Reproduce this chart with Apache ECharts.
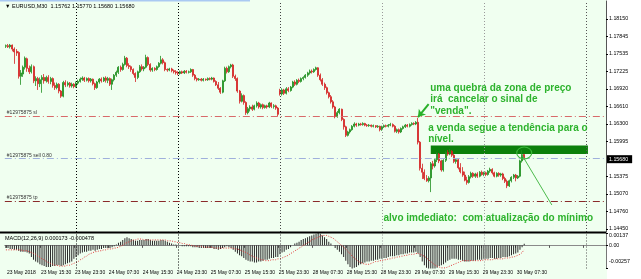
<!DOCTYPE html>
<html><head><meta charset="utf-8">
<script src="https://cdn.jsdelivr.net/npm/echarts@6/dist/echarts.min.js"></script>
<style>html,body{margin:0;padding:0;background:#f0fff0}#c{width:641px;height:279px}</style>
</head><body><div id="c"></div>
<script>
// ---- DATA (EURUSD M30) ----
const openP = [
1.1767,1.1768,1.1766,1.1769,1.1762,1.1758,1.1756,1.1714,1.1718,1.1730,
1.1745,1.1728,1.1722,1.1731,1.1706,1.1710,1.1701,1.1708,1.1712,1.1706,
1.1712,1.1705,1.1710,1.1698,1.1694,1.1700,1.1688,1.1679,1.1703,1.1699,
1.1702,1.1697,1.1700,1.1696,1.1702,1.1705,1.1709,1.1711,1.1707,1.1710,
1.1706,1.1709,1.1701,1.1694,1.1704,1.1709,1.1706,1.1711,1.1707,1.1710,
1.1700,1.1708,1.1716,1.1721,1.1730,1.1726,1.1735,1.1746,1.1733,1.1731,
1.1726,1.1719,1.1712,1.1722,1.1731,1.1727,1.1730,1.1747,1.1735,1.1725,
1.1728,1.1726,1.1731,1.1737,1.1743,1.1738,1.1726,1.1725,1.1727,1.1724,
1.1722,1.1720,1.1719,1.1722,1.1720,1.1723,1.1721,1.1722,1.1726,1.1716,
1.1710,1.1708,1.1709,1.1707,1.1709,1.1708,1.1710,1.1709,1.1711,1.1705,
1.1699,1.1693,1.1686,1.1706,1.1728,1.1722,1.1731,1.1734,1.1714,1.1710,
1.1688,1.1670,1.1680,1.1668,1.1650,1.1657,1.1660,1.1656,1.1662,1.1667,
1.1660,1.1664,1.1659,1.1662,1.1660,1.1667,1.1661,1.1662,1.1658,1.1688,
1.1683,1.1690,1.1684,1.1692,1.1689,1.1695,1.1704,1.1700,1.1707,1.1705,
1.1710,1.1712,1.1716,1.1720,1.1723,1.1722,1.1726,1.1729,1.1716,1.1708,
1.1700,1.1694,1.1685,1.1678,1.1669,1.1660,1.1643,1.1650,1.1656,1.1638,
1.1625,1.1610,1.1616,1.1620,1.1626,1.1630,1.1628,1.1630,1.1629,1.1631,
1.1628,1.1627,1.1628,1.1626,1.1627,1.1625,1.1626,1.1620,1.1625,1.1627,
1.1626,1.1628,1.1629,1.1626,1.1617,1.1620,1.1616,1.1622,1.1625,1.1628,
1.1626,1.1629,1.1631,1.1630,1.1633,1.1598,1.1552,1.1545,1.1534,1.1530,
1.1535,1.1560,1.1556,1.1567,1.1577,1.1565,1.1549,1.1566,1.1580,1.1577,
1.1582,1.1575,1.1564,1.1567,1.1553,1.1546,1.1540,1.1531,1.1527,1.1537,
1.1543,1.1538,1.1542,1.1538,1.1545,1.1541,1.1544,1.1541,1.1547,1.1550,
1.1544,1.1538,1.1543,1.1540,1.1542,1.1534,1.1529,1.1521,1.1530,1.1536,
1.1540,1.1535,1.1538,1.1565,1.15762];
const closeP = [
1.1768,1.1766,1.1769,1.1762,1.1757,1.1755,1.1714,1.1720,1.1730,1.1746,
1.1728,1.1722,1.1731,1.1706,1.1710,1.1701,1.1708,1.1712,1.1706,1.1712,
1.1705,1.1710,1.1698,1.1694,1.1700,1.1688,1.1679,1.1703,1.1699,1.1702,
1.1697,1.1700,1.1696,1.1702,1.1705,1.1709,1.1711,1.1707,1.1710,1.1706,
1.1709,1.1701,1.1694,1.1704,1.1709,1.1706,1.1711,1.1707,1.1710,1.1700,
1.1708,1.1716,1.1721,1.1730,1.1726,1.1735,1.1746,1.1733,1.1731,1.1726,
1.1719,1.1712,1.1722,1.1731,1.1727,1.1730,1.1747,1.1735,1.1725,1.1728,
1.1726,1.1731,1.1737,1.1743,1.1738,1.1726,1.1725,1.1727,1.1724,1.1722,
1.1720,1.1719,1.1722,1.1720,1.1723,1.1721,1.1722,1.1726,1.1716,1.1710,
1.1708,1.1709,1.1707,1.1709,1.1708,1.1710,1.1709,1.1711,1.1705,1.1699,
1.1693,1.1686,1.1706,1.1728,1.1722,1.1731,1.1734,1.1714,1.1710,1.1688,
1.1670,1.1680,1.1668,1.1650,1.1657,1.1660,1.1656,1.1662,1.1667,1.1660,
1.1664,1.1659,1.1662,1.1660,1.1667,1.1661,1.1662,1.1658,1.1647,1.1683,
1.1690,1.1684,1.1692,1.1689,1.1695,1.1704,1.1700,1.1707,1.1705,1.1710,
1.1712,1.1716,1.1720,1.1723,1.1722,1.1726,1.1729,1.1716,1.1708,1.1700,
1.1694,1.1685,1.1678,1.1669,1.1660,1.1643,1.1650,1.1656,1.1638,1.1625,
1.1610,1.1616,1.1620,1.1626,1.1630,1.1628,1.1630,1.1629,1.1631,1.1628,
1.1627,1.1628,1.1626,1.1627,1.1625,1.1626,1.1620,1.1625,1.1627,1.1626,
1.1628,1.1629,1.1626,1.1617,1.1620,1.1616,1.1622,1.1625,1.1628,1.1626,
1.1629,1.1631,1.1630,1.1633,1.1598,1.1552,1.1545,1.1534,1.1530,1.1535,
1.1560,1.1556,1.1567,1.1577,1.1565,1.1549,1.1566,1.1580,1.1577,1.1582,
1.1575,1.1564,1.1567,1.1553,1.1546,1.1540,1.1531,1.1527,1.1537,1.1543,
1.1538,1.1542,1.1538,1.1545,1.1541,1.1544,1.1541,1.1547,1.1550,1.1544,
1.1538,1.1543,1.1540,1.1542,1.1534,1.1529,1.1521,1.1530,1.1536,1.1540,
1.1535,1.1538,1.1565,1.1576,1.15680];
const highP = [
1.1770,1.1771,1.1771,1.1770,1.1765,1.1762,1.1758,1.1725,1.1733,1.1749,
1.1747,1.1733,1.1735,1.1733,1.1714,1.1713,1.1712,1.1716,1.1718,1.1715,
1.1716,1.1713,1.1712,1.1703,1.1703,1.1702,1.1690,1.1706,1.1707,1.1705,
1.1704,1.1703,1.1702,1.1705,1.1708,1.1712,1.1714,1.1713,1.1712,1.1712,
1.1711,1.1710,1.1703,1.1706,1.1711,1.1712,1.1713,1.1714,1.1713,1.1712,
1.1710,1.1718,1.1724,1.1732,1.1733,1.1738,1.1750,1.1748,1.1737,1.1733,
1.1728,1.1721,1.1724,1.1734,1.1735,1.1732,1.1752,1.1749,1.1737,1.1730,
1.1730,1.1733,1.1739,1.1750,1.1746,1.1740,1.1728,1.1729,1.1729,1.1726,
1.1725,1.1723,1.1724,1.1724,1.1725,1.1725,1.1724,1.1728,1.1727,1.1718,
1.1712,1.1711,1.1711,1.1711,1.1710,1.1712,1.1712,1.1713,1.1712,1.1707,
1.1704,1.1695,1.1708,1.1731,1.1731,1.1733,1.1736,1.1736,1.1717,1.1712,
1.1690,1.1684,1.1682,1.1670,1.1660,1.1663,1.1664,1.1664,1.1670,1.1669,
1.1666,1.1666,1.1664,1.1664,1.1669,1.1668,1.1665,1.1664,1.1660,1.1692,
1.1693,1.1692,1.1695,1.1695,1.1697,1.1706,1.1707,1.1709,1.1710,1.1712,
1.1714,1.1718,1.1722,1.1726,1.1726,1.1728,1.1731,1.1730,1.1719,1.1711,
1.1703,1.1696,1.1687,1.1681,1.1672,1.1662,1.1653,1.1658,1.1657,1.1640,
1.1627,1.1618,1.1622,1.1628,1.1633,1.1632,1.1632,1.1632,1.1633,1.1632,
1.1630,1.1630,1.1629,1.1629,1.1628,1.1628,1.1627,1.1627,1.1629,1.1629,
1.1630,1.1632,1.1631,1.1628,1.1622,1.1622,1.1624,1.1627,1.1630,1.1630,
1.1631,1.1633,1.1633,1.1635,1.1641,1.1600,1.1560,1.1550,1.1540,1.1538,
1.1563,1.1565,1.1569,1.1580,1.1579,1.1567,1.1568,1.1582,1.1584,1.1586,
1.1584,1.1577,1.1570,1.1569,1.1561,1.1554,1.1546,1.1537,1.1540,1.1546,
1.1545,1.1544,1.1545,1.1547,1.1548,1.1546,1.1546,1.1549,1.1553,1.1552,
1.1546,1.1545,1.1545,1.1544,1.1544,1.1537,1.1532,1.1532,1.1538,1.1542,
1.1542,1.1540,1.1567,1.1584,1.15770];
const lowP = [
1.1764,1.1764,1.1763,1.1758,1.1736,1.1750,1.1710,1.1699,1.1713,1.1726,
1.1722,1.1718,1.1719,1.1702,1.1697,1.1690,1.1695,1.1685,1.1701,1.1703,
1.1701,1.1700,1.1694,1.1690,1.1691,1.1684,1.1676,1.1677,1.1695,1.1696,
1.1694,1.1694,1.1693,1.1694,1.1699,1.1703,1.1706,1.1704,1.1705,1.1703,
1.1703,1.1698,1.1690,1.1692,1.1701,1.1703,1.1704,1.1703,1.1702,1.1697,
1.1690,1.1705,1.1713,1.1718,1.1722,1.1724,1.1733,1.1730,1.1727,1.1722,
1.1716,1.1704,1.1709,1.1720,1.1724,1.1723,1.1728,1.1732,1.1722,1.1722,
1.1723,1.1724,1.1729,1.1735,1.1735,1.1723,1.1722,1.1723,1.1721,1.1719,
1.1717,1.1716,1.1717,1.1718,1.1718,1.1719,1.1719,1.1720,1.1713,1.1707,
1.1705,1.1706,1.1705,1.1705,1.1706,1.1706,1.1707,1.1707,1.1703,1.1697,
1.1690,1.1683,1.1684,1.1704,1.1719,1.1720,1.1728,1.1711,1.1706,1.1685,
1.1666,1.1668,1.1664,1.1646,1.1647,1.1652,1.1653,1.1654,1.1659,1.1657,
1.1657,1.1656,1.1657,1.1657,1.1658,1.1658,1.1657,1.1655,1.1644,1.1680,
1.1680,1.1681,1.1682,1.1686,1.1687,1.1693,1.1697,1.1698,1.1702,1.1703,
1.1707,1.1710,1.1713,1.1717,1.1719,1.1720,1.1724,1.1713,1.1705,1.1697,
1.1690,1.1682,1.1675,1.1666,1.1657,1.1640,1.1641,1.1647,1.1635,1.1620,
1.1607,1.1608,1.1613,1.1618,1.1624,1.1625,1.1626,1.1627,1.1627,1.1626,
1.1625,1.1625,1.1624,1.1624,1.1623,1.1623,1.1617,1.1618,1.1623,1.1624,
1.1624,1.1626,1.1624,1.1615,1.1614,1.1613,1.1614,1.1620,1.1623,1.1624,
1.1624,1.1627,1.1628,1.1628,1.1594,1.1548,1.1533,1.1531,1.1528,1.1527,
1.1510,1.1550,1.1553,1.1563,1.1561,1.1546,1.1546,1.1563,1.1574,1.1575,
1.1572,1.1561,1.1560,1.1550,1.1543,1.1537,1.1529,1.1523,1.1525,1.1534,
1.1535,1.1535,1.1535,1.1536,1.1539,1.1538,1.1538,1.1539,1.1544,1.1541,
1.1536,1.1536,1.1537,1.1537,1.1531,1.1526,1.1517,1.1519,1.1527,1.1533,
1.1529,1.1533,1.1536,1.1562,1.15680];
const macdMain = [
-0.0003,-0.0003,-0.0004,-0.0004,-0.0005,-0.0005,-0.0006,-0.0007,-0.0007,-0.0007,-0.0008,-0.0009,
-0.0013,-0.0016,-0.0018,-0.0019,-0.0021,-0.0022,-0.0023,-0.0024,-0.0024,-0.0024,-0.0023,-0.0023,-0.0022,-0.0022,-0.0023,-0.0022,-0.0021,-0.0020,-0.0019,-0.0018,
-0.0015,-0.0013,-0.0011,-0.0009,
-0.0008,-0.0007,-0.0007,-0.0006,-0.0006,-0.0005,-0.0006,-0.0005,-0.0004,-0.0004,-0.0003,-0.0003,-0.0003,-0.0003,-0.0002,-0.0001,
0.0001,0.0003,0.0004,0.0006,0.0008,0.0009,0.0008,
0.0007,0.0006,0.0005,0.0005,0.0006,0.0006,0.0006,0.0007,0.0007,0.0006,0.0005,0.0005,0.0005,0.0005,0.0006,0.0006,0.0005,0.0004,0.0003,
0.0002,0.0001,0.0001,0.0000,0.0000,-0.0001,-0.0001,-0.0001,-0.0001,-0.0001,-0.0002,-0.0002,-0.0002,-0.0003,-0.0003,-0.0003,-0.0003,-0.0003,-0.0003,-0.0003,-0.0004,-0.0004,-0.0005,-0.0004,-0.0003,-0.0002,-0.0001,-0.0002,-0.0003,-0.0005,-0.0007,-0.0009,
-0.0011,-0.0012,-0.0014,-0.0016,-0.0017,-0.0018,-0.0018,-0.0019,-0.0019,-0.0018,-0.0018,-0.0017,
-0.0016,-0.0016,-0.0015,-0.0014,-0.0014,-0.0013,-0.0013,
-0.0010,-0.0008,-0.0007,-0.0005,-0.0004,-0.0002,
0.0000,0.0002,0.0003,0.0004,0.0006,0.0007,0.0008,0.0009,0.0010,0.0011,0.0012,0.0013,0.0014,0.0013,
0.0011,0.0009,0.0007,
0.0004,0.0002,0.0000,-0.0003,
-0.0005,-0.0007,-0.0010,-0.0013,-0.0017,-0.0021,-0.0024,-0.0026,-0.0025,-0.0024,
-0.0022,-0.0021,-0.0020,-0.0019,-0.0018,-0.0018,-0.0017,-0.0017,-0.0016,-0.0016,-0.0015,
-0.0015,-0.0014,-0.0014,-0.0013,-0.0012,-0.0012,-0.0012,-0.0011,-0.0011,-0.0010,-0.0010,-0.0009,-0.0009,-0.0008,-0.0008,-0.0008,-0.0007,-0.0009,
-0.0013,-0.0018,-0.0022,-0.0025,-0.0028,-0.0030,-0.0029,-0.0027,
-0.0025,-0.0023,-0.0022,-0.0021,-0.0019,-0.0017,-0.0016,-0.0015,-0.0015,-0.0015,-0.0016,-0.0016,-0.0017,
-0.0018,-0.0018,-0.0018,-0.0017,-0.0017,-0.0017,-0.0016,-0.0016,-0.0016,-0.0015,-0.0015,-0.0015,-0.0014,-0.0014,-0.0015,-0.0015,-0.0014,
-0.0014,-0.0013,-0.0013,-0.0013,-0.0012,-0.0011,-0.0010,-0.0009,-0.0008,-0.0005,
-0.0002,0.000173];
const macdSignal = [
-0.0005,-0.0005,-0.0005,-0.0005,-0.0005,-0.0005,-0.0005,-0.0005,-0.0006,-0.0006,-0.0006,-0.0007,
-0.0008,-0.0009,-0.0010,-0.0012,-0.0013,-0.0015,-0.0016,-0.0018,-0.0019,-0.0020,-0.0021,-0.0022,-0.0022,-0.0023,-0.0023,-0.0023,-0.0023,-0.0022,-0.0022,-0.0021,
-0.0020,-0.0019,-0.0018,-0.0016,
-0.0015,-0.0013,-0.0012,-0.0010,-0.0009,-0.0008,-0.0007,-0.0007,-0.0006,-0.0006,-0.0005,-0.0005,-0.0004,-0.0004,-0.0004,-0.0003,
-0.0003,-0.0002,-0.0001,0.0000,0.0002,0.0003,0.0004,
0.0005,0.0006,0.0006,0.0007,0.0007,0.0007,0.0006,0.0006,0.0006,0.0006,0.0006,0.0006,0.0006,0.0006,0.0006,0.0006,0.0006,0.0005,0.0005,
0.0005,0.0004,0.0004,0.0003,0.0003,0.0002,0.0002,0.0001,0.0001,0.0000,0.0000,-0.0001,-0.0001,-0.0001,-0.0001,-0.0002,-0.0002,-0.0002,-0.0002,-0.0002,-0.0003,-0.0003,-0.0003,-0.0003,-0.0003,-0.0003,-0.0003,-0.0003,-0.0003,-0.0003,-0.0004,-0.0004,
-0.0005,-0.0006,-0.0007,-0.0008,-0.0009,-0.0011,-0.0012,-0.0013,-0.0014,-0.0015,-0.0016,-0.0016,
-0.0017,-0.0017,-0.0017,-0.0016,-0.0016,-0.0016,-0.0015,
-0.0015,-0.0014,-0.0013,-0.0012,-0.0011,-0.0009,
-0.0008,-0.0006,-0.0005,-0.0003,-0.0002,0.0000,0.0001,0.0003,0.0004,0.0006,0.0007,0.0008,0.0009,0.0010,
0.0011,0.0011,0.0011,
0.0010,0.0009,0.0008,0.0006,
0.0004,0.0002,0.0000,-0.0002,-0.0004,-0.0007,-0.0009,-0.0012,-0.0014,-0.0016,
-0.0018,-0.0019,-0.0020,-0.0021,-0.0021,-0.0021,-0.0020,-0.0019,-0.0018,-0.0018,-0.0017,
-0.0017,-0.0016,-0.0016,-0.0015,-0.0015,-0.0014,-0.0014,-0.0013,-0.0013,-0.0012,-0.0012,-0.0011,-0.0011,-0.0010,-0.0010,-0.0010,-0.0009,-0.0009,
-0.0010,-0.0011,-0.0012,-0.0014,-0.0016,-0.0018,-0.0020,-0.0022,
-0.0023,-0.0024,-0.0025,-0.0025,-0.0025,-0.0024,-0.0023,-0.0022,-0.0021,-0.0020,-0.0019,-0.0018,-0.0017,
-0.0017,-0.0017,-0.0017,-0.0017,-0.0017,-0.0017,-0.0017,-0.0017,-0.0017,-0.0016,-0.0016,-0.0016,-0.0016,-0.0016,-0.0015,-0.0015,-0.0015,
-0.0015,-0.0015,-0.0014,-0.0014,-0.0014,-0.0013,-0.0013,-0.0012,-0.0011,-0.0010,
-0.0008,-0.000478];
const timeLabels = ['23 May 2018','23 May 15:30','23 May 23:30','24 May 07:30','24 May 15:30','24 May 23:30',
  '25 May 07:30','25 May 15:30','25 May 23:30','28 May 07:30','28 May 15:30','28 May 23:30',
  '29 May 07:30','29 May 15:30','29 May 23:30','30 May 07:30'];
const priceTicks = [1.18150,1.17845,1.17535,1.17225,1.16920,1.16610,1.16300,1.15995,1.15375,1.15070,1.14760,1.14450];
const macdTicks = [0.00137,0,-0.00257];
const daySeparators = [33,81,129,177,225,273];
const orderNames = ['#12975875 sl','#12975875 sell 0.80','#12975875 tp'];
const orderPrices = [1.16432,1.15689,1.14938];
const bidPrice = 1.15680;

// ---- CHART ----
const SLOTS = 283;
const cats = Array.from({length: SLOTS}, (_, i) => String(i));
const candles = openP.map((o, i) => [o, closeP[i], lowP[i], highP[i]]);
const F = 'Liberation Sans';
const sepColors = ['#000','#000','#444','#9a9a9a','#9a9a9a','#555'];
const orderColors = ['#d86a6a','#9fb0dc','#8a2a2a'];
const GREEN = '#2db32d';

const sepLines = daySeparators.map((d, k) => ({xAxis: d, lineStyle:{type:[1,2], color: sepColors[k], width:1}, label:{show:false}}));
const orderLines = orderPrices.map((p, k) => ({yAxis: p,
  lineStyle:{type:[7,3,1,3], color: orderColors[k], width:1},
  label:{show:true, position:'insideStartTop', formatter: orderNames[k], fontSize:5, color:'#333', fontFamily:F, distance:[2,1]}}));

const noteLabel = (txt) => ({show:true, position:[0,0], align:'left', verticalAlign:'top', formatter: txt,
  color: GREEN, fontSize:10, fontWeight:'bold', lineHeight:11.5, fontFamily:F});

const chart = echarts.init(document.getElementById('c'), null, {renderer:'canvas'});
chart.setOption({
  animation:false,
  backgroundColor:'#f0fff0',
  textStyle:{fontFamily:F},
  title:[
    {text:'\u25BC EURUSD,M30  1.15762 1.15770 1.15680 1.15680', left:5, top:3, padding:0, textStyle:{fontSize:5.5, fontWeight:'normal', color:'#000', fontFamily:F}},
    {text:'MACD(12,26,9) 0.000173 -0.000478', left:5, top:235, padding:0, textStyle:{fontSize:5.5, fontWeight:'normal', color:'#000', fontFamily:F}}
  ],
  graphic:[
    {type:'rect', z:-10, shape:{x:607, y:0, width:34, height:279}, style:{fill:'#ffffff'}},
    {type:'rect', z:-9, shape:{x:0, y:0, width:250, height:1.5}, style:{fill:'#a9c9f2'}},
    {type:'line', z:50, shape:{x1:0, y1:232.5, x2:606, y2:232.5}, style:{stroke:'#000', lineWidth:2}}
  ],
  grid:[
    {left:4.84, top:1, width:601.16, height:231},
    {left:4.84, top:233, width:601.16, height:35.5}
  ],
  xAxis:[
    {type:'category', gridIndex:0, data:cats, axisLine:{show:false}, axisTick:{show:false}, axisLabel:{show:false}, splitLine:{show:false}},
    {type:'category', gridIndex:1, data:cats, axisLine:{show:true, lineStyle:{color:'#8a8a8a', width:1}},
     axisTick:{show:true, interval:15, alignWithLabel:true, length:2.5, lineStyle:{color:'#555'}},
     axisLabel:{show:true, interval:15, formatter:(v, i) => timeLabels[i / 16] || '', fontSize:5, color:'#000', align:'left', margin:1.5, padding:[0,0,0,1], fontFamily:F},
     splitLine:{show:false}}
  ],
  yAxis:[
    {type:'value', gridIndex:0, position:'right', min:1.14397, max:1.18467,
     axisLine:{show:true, lineStyle:{color:'#555'}},
     axisTick:{show:true, customValues:priceTicks, length:2, lineStyle:{color:'#000'}},
     axisLabel:{show:true, customValues:priceTicks, formatter:v => v.toFixed(5), fontSize:5.3, color:'#000', margin:3, fontFamily:F},
     splitLine:{show:false}},
    {type:'value', gridIndex:1, position:'right', min:-0.00257, max:0.00137,
     axisLine:{show:true, lineStyle:{color:'#777'}},
     axisTick:{show:true, customValues:macdTicks, length:2, lineStyle:{color:'#000'}},
     axisLabel:{show:true, customValues:macdTicks, fontSize:5.3, color:'#000', margin:3, fontFamily:F,
       formatter:v => v === 0 ? '0.00' : (v > 0 ? '{t|' + v.toFixed(5) + '}' : '{b|' + v.toFixed(5) + '}'),
       rich:{t:{fontSize:5.3, padding:[6,0,0,0]}, b:{fontSize:5.3, padding:[0,0,13,0]}}},
     splitLine:{show:false}}
  ],
  series:[
    {type:'candlestick', xAxisIndex:0, yAxisIndex:0, data:candles, barWidth:1.5,
     itemStyle:{color:'#1f8f1f', color0:'#d42222', borderColor:'#1f8f1f', borderColor0:'#d42222', borderWidth:0.8},
     markArea:{silent:true, itemStyle:{color:'#0b800b'}, data:[[{coord:[200,1.1592]},{coord:[274,1.1577]}]]},
     markLine:{silent:true, precision:6, symbol:['none','none'], animation:false,
       data:[
         ...sepLines,
         ...orderLines,
         {yAxis: bidPrice, lineStyle:{color:'rgba(0,0,0,0)', width:1}, label:{show:true, position:'end', distance:1, formatter: bidPrice.toFixed(5), backgroundColor:'#000', color:'#fff', fontSize:5.3, padding:[1.5,4,1.5,2], fontFamily:F}},
         [{coord:[243,1.1575], symbol:'none', lineStyle:{color:'#4cbb4c', width:1, type:'solid'}, label:{show:false}},
          {coord:[257,1.14873], symbol:'none'}],
         [{coord:[199,1.16652], symbol:'none', lineStyle:{color:'#28b028', width:2, type:'solid'}, label:{show:false}},
          {coord:[194,1.16423], symbol:'arrow', symbolSize:7}]
       ]},
     markPoint:{silent:true, animation:false,
       data:[
         {coord:[244,1.1579], symbol:'circle', symbolSize:[15,12], itemStyle:{color:'rgba(0,0,0,0)', borderColor:'#3cb83c', borderWidth:1}, label:{show:false}},
         {coord:[200,1.17027], symbol:'circle', symbolSize:1, itemStyle:{color:'rgba(0,0,0,0)'}, label:noteLabel('uma quebra da zona de preço\nirá  cancelar o sinal de\n"venda".')},
         {coord:[199,1.16322], symbol:'circle', symbolSize:1, itemStyle:{color:'rgba(0,0,0,0)'}, label:noteLabel('a venda segue a tendência para o\nnível.')},
         {coord:[178,1.14737], symbol:'circle', symbolSize:1, itemStyle:{color:'rgba(0,0,0,0)'}, label:noteLabel('alvo imdediato:  com atualização do mínimo')}
       ]}
    },
    {type:'bar', xAxisIndex:1, yAxisIndex:1, data:macdMain, barWidth:1, itemStyle:{color:'#2a2a2a'},
     markLine:{silent:true, precision:6, symbol:['none','none'], data: sepLines}},
    {type:'line', xAxisIndex:1, yAxisIndex:1, data:macdSignal, symbol:'none', lineStyle:{color:'#e03a3a', type:[1,1.5], width:1}}
  ]
});
</script>
</body></html>
